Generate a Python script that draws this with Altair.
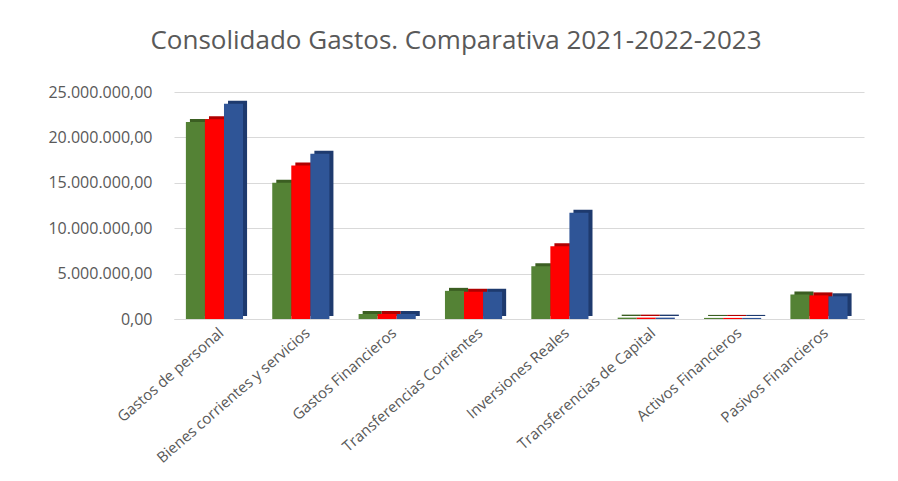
import altair as alt
import pandas as pd

categories = ["Gastos de personal", "Bienes corrientes y servicios", "Gastos Financieros",
              "Transferencias Corrientes", "Inversiones Reales", "Transferencias de Capital",
              "Activos Financieros", "Pasivos Financieros"]
years = ["2021", "2022", "2023"]
v2021 = [21700000, 15000000, 550000, 3100000, 5800000, 150000, 120000, 2700000]
v2022 = [22000000, 16900000, 550000, 3000000, 8000000, 150000, 120000, 2600000]
v2023 = [23700000, 18200000, 550000, 3000000, 11700000, 150000, 120000, 2500000]
front_colors = ["#548235", "#ff0000", "#2f5597"]
side_colors = ["#3b5e22", "#b00000", "#1e3a6e"]

rows = []
for i, c in enumerate(categories):
    for y, vals in zip(years, [v2021, v2022, v2023]):
        rows.append({"cat": c, "year": y, "value": vals[i]})
df = pd.DataFrame(rows)

x = alt.X("cat:N", sort=categories, title=None,
          scale=alt.Scale(paddingInner=0.25, paddingOuter=0.12),
          axis=alt.Axis(labelAngle=-41, labelFontSize=15, labelColor="#595959",
                        labelFont="Open Sans", ticks=False, domainColor="#d9d9d9",
                        labelPadding=6, labelLimit=400))
y = alt.Y("value:Q", title=None, scale=alt.Scale(domain=[0, 25000000]),
          axis=alt.Axis(values=[0, 5000000, 10000000, 15000000, 20000000, 25000000],
                        format=",.2f", labelFontSize=16, labelColor="#595959",
                        labelFont="Open Sans", ticks=False, domain=False,
                        gridColor="#d9d9d9", labelPadding=22))

side = alt.Chart(df).mark_bar(yOffset=-3).encode(
    x=x,
    xOffset=alt.XOffset("year:N", sort=years,
                        scale=alt.Scale(paddingInner=0, paddingOuter=0.2, align=0.73)),
    y=y,
    color=alt.Color("year:N", scale=alt.Scale(domain=years, range=side_colors), legend=None),
)
front = alt.Chart(df).mark_bar().encode(
    x=x,
    xOffset=alt.XOffset("year:N", sort=years,
                        scale=alt.Scale(paddingInner=0, paddingOuter=0.2, align=0.2)),
    y=y,
    color=alt.Color("year:N", scale=alt.Scale(domain=years, range=front_colors), legend=None),
)

chart = alt.layer(side, front).resolve_scale(color="independent", xOffset="independent").properties(
    width=690, height=227,
    title=alt.TitleParams("Consolidado Gastos. Comparativa 2021-2022-2023",
                          fontSize=26, font="Open Sans", fontWeight="normal",
                          color="#595959", offset=30, frame="bounds", anchor="middle"),
    padding={"left": 39, "top": 20, "right": 10, "bottom": 5},
).configure(
    locale={"number": {"decimal": ",", "thousands": ".", "grouping": [3],
                       "currency": ["", " €"]}}
).configure_view(stroke=None)

chart.save("out.html", embed_options={"renderer": "svg", "actions": False})
